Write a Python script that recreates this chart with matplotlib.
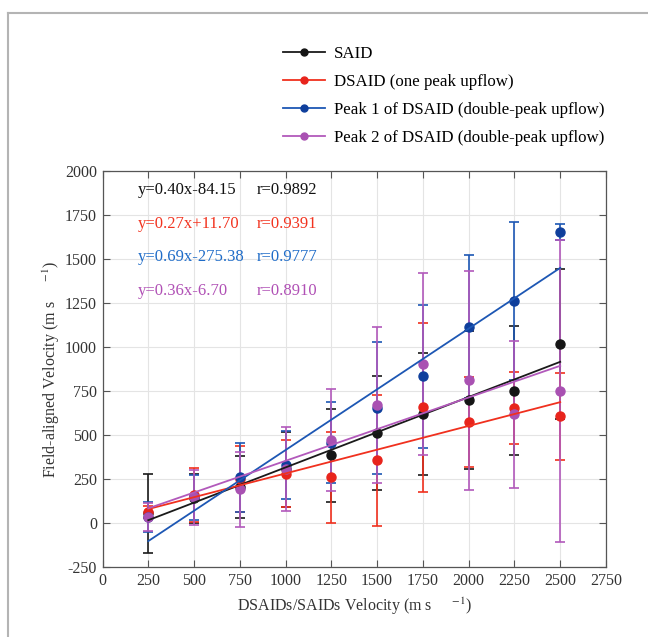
import matplotlib
matplotlib.use('Agg')
import numpy as np
import matplotlib.pyplot as plt
from matplotlib.lines import Line2D

plt.rcParams['font.family'] = ['Liberation Serif', 'DejaVu Serif']
plt.rcParams['mathtext.fontset'] = 'stix'
plt.rcParams['axes.unicode_minus'] = False

# data
x = [250, 500, 750, 1000, 1250, 1500, 1750, 2000, 2250, 2500]

said_mean = [55, 140, 205, 304, 384, 511, 619, 700, 752, 1017]
said_err = [225, 140, 177, 213, 265, 324, 348, 392, 367, 426]

dsaid_mean = [62, 160, 250, 280, 260, 356, 657, 575, 652, 606]
dsaid_err = [35, 155, 185, 189, 258, 371, 481, 255, 204, 248]

peak1_mean = [35, 145, 259, 330, 457, 653, 833, 1115, 1260, 1655]
peak1_err = [85, 128, 197, 195, 230, 375, 405, 405, 450, 45]

peak2_mean = [35, 145, 192, 307, 470, 672, 903, 810, 617, 751]
peak2_err = [80, 155, 213, 237, 290, 443, 518, 623, 418, 857]

labels = ['SAID', 'DSAID (one peak upflow)',
          'Peak 1 of DSAID (double-peak upflow)',
          'Peak 2 of DSAID (double-peak upflow)']
fit_slope = [0.40, 0.27, 0.69, 0.36]
fit_icpt = [-84.15, 11.70, -275.38, -6.70]
r_vals = ['0.9892', '0.9391', '0.9777', '0.8910']

means = [said_mean, dsaid_mean, peak1_mean, peak2_mean]
errs = [said_err, dsaid_err, peak1_err, peak2_err]

dot_colors = ['#151515', '#e8241c', '#0f3f9c', '#a951b2']
line_colors = ['#1a1a1a', '#f0301e', '#1d57b4', '#b259bb']
text_colors = ['#111111', '#f2331f', '#1f6cc8', '#b050b5']

fig = plt.figure(figsize=(6.48, 6.37), dpi=100)
ax = fig.add_axes([102.5 / 648, 1 - 567 / 637, (606 - 102.5) / 648, (567 - 171) / 637])

xs = np.array([x[0], x[-1]])
for m, e, dc, lc in zip(means, errs, dot_colors, line_colors):
    ax.errorbar(x, m, yerr=e, fmt='o', color=dc, ecolor=lc, markersize=6.5,
                capsize=3.8, elinewidth=1.2, capthick=1.2, zorder=3)
for k, b, lc in zip(fit_slope, fit_icpt, line_colors):
    ax.plot(xs, k * xs + b, color=lc, lw=1.3, zorder=4)

# fit equations
eq_y = [1890, 1700, 1510, 1320]
for k, b, r, tc, yy in zip(fit_slope, fit_icpt, r_vals, text_colors, eq_y):
    sign = '-' if b < 0 else '+'
    ax.text(195, yy, 'y=%.2fx%s%.2f' % (k, sign, abs(b)), color=tc,
            fontsize=12, va='center', ha='left')
    ax.text(840, yy, 'r=' + r, color=tc, fontsize=12, va='center', ha='left')

ax.set_xlim(0, 2750)
ax.set_ylim(-250, 2000)
ax.set_xticks(np.arange(0, 2751, 250))
ax.set_yticks(np.arange(-250, 2001, 250))
ax.tick_params(direction='in', length=5, width=0.8, top=True, right=True,
               labelsize=11.5, colors='#555555', labelcolor='#333333', pad=4)
for s in ax.spines.values():
    s.set_color('#555555')
    s.set_linewidth(0.9)
ax.grid(True, color='#e4e4e4', lw=0.8)
ax.set_axisbelow(True)

ax.set_xlabel('DSAIDs/SAIDs Velocity (m s     $^{-1}$)', fontsize=11.5, color='#333333',
              labelpad=5)
ax.set_ylabel('Field-aligned Velocity (m s     $^{-1}$)', fontsize=11.5, color='#333333',
              labelpad=2)

handles = [Line2D([0], [0], color=lc, marker='o', markerfacecolor=dc,
                  markeredgecolor=dc, markersize=5, lw=1.3)
           for lc, dc in zip(line_colors, dot_colors)]
fig.legend(handles, labels, loc='upper left', bbox_to_anchor=(283 / 648, 1 - 46 / 637),
           frameon=False, fontsize=12.2, handlelength=2.45, handletextpad=0.55,
           labelspacing=0.7, borderpad=0, borderaxespad=0)

# outer frame (top and left only)
fig.add_artist(Line2D([8 / 648, 8 / 648], [0, 1 - 13 / 637], transform=fig.transFigure,
                      color='#b4b4b4', lw=1.5))
fig.add_artist(Line2D([8 / 648, 1], [1 - 13 / 637, 1 - 13 / 637], transform=fig.transFigure,
                      color='#b4b4b4', lw=1.5))

fig.savefig('out.png', dpi=100)
